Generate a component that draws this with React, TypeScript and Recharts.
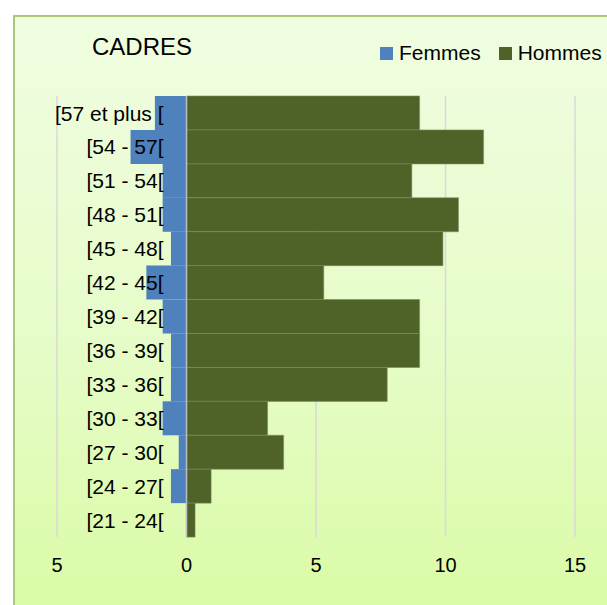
import { Bar, BarChart, CartesianGrid, LabelList, ReferenceLine, XAxis, YAxis } from 'recharts'

const ageGroups = [
  '[57 et plus [',
  '[54 - 57[',
  '[51 - 54[',
  '[48 - 51[',
  '[45 - 48[',
  '[42 - 45[',
  '[39 - 42[',
  '[36 - 39[',
  '[33 - 36[',
  '[30 - 33[',
  '[27 - 30[',
  '[24 - 27[',
  '[21 - 24[',
]
const femmes = [-1.22, -2.16, -0.92, -0.92, -0.6, -1.55, -0.92, -0.6, -0.6, -0.92, -0.3, -0.6, 0]
const hommes = [9.0, 11.47, 8.7, 10.5, 9.9, 5.3, 9.0, 9.0, 7.75, 3.13, 3.75, 0.95, 0.33]
const xTicks = [-5, 0, 5, 10, 15]

const data = ageGroups.map((age, i) => ({ age, Femmes: femmes[i], Hommes: hommes[i] }))

const font = '"Liberation Sans", Arial, sans-serif'

// age labels sit just left of the zero line, on top of the Femmes bars
const renderAgeLabel = (props: any) => {
  const vb = props.viewBox || props
  return (
    <text
      x={vb.x - 23}
      y={vb.y + vb.height / 2}
      textAnchor="end"
      dominantBaseline="central"
      fontSize={21}
      fontFamily={font}
      fill="#000"
    >
      {props.value}
    </text>
  )
}

export default function App() {
  return (
    <div
      style={{
        position: 'absolute',
        left: 13,
        top: 15,
        width: 600,
        height: 592,
        border: '2px solid #a9c978',
        background: 'linear-gradient(to bottom, #f0fde1 0%, #e6fcc8 55%, #dafba6 100%)',
        fontFamily: font,
      }}
    >
      <div style={{ position: 'absolute', left: 77, top: 16, fontSize: 24, color: '#000' }}>CADRES</div>
      <div style={{ position: 'absolute', left: 365, top: 24, display: 'flex', alignItems: 'center', fontSize: 21, color: '#000' }}>
        <span style={{ width: 13, height: 13, background: '#4f81bd', display: 'inline-block', marginRight: 6 }} />
        <span style={{ marginRight: 18 }}>Femmes</span>
        <span style={{ width: 13, height: 13, background: '#4f6228', display: 'inline-block', marginRight: 6 }} />
        <span>Hommes</span>
      </div>
      <BarChart
        width={600}
        height={590}
        data={data}
        layout="vertical"
        stackOffset="sign"
        barCategoryGap={0}
        margin={{ top: 79, right: 40, left: 42, bottom: 0 }}
      >
        <CartesianGrid horizontal={false} stroke="#d9d9d9" strokeWidth={1.5} />
        <XAxis
          type="number"
          domain={[-5, 15]}
          ticks={xTicks}
          axisLine={false}
          tickLine={false}
          tickSize={0}
          tickMargin={21}
          height={70}
          tickFormatter={(v) => String(Math.abs(Number(v)))}
          tick={{ fontSize: 20, fill: '#000', fontFamily: font }}
        />
        <YAxis type="category" dataKey="age" hide />
        <ReferenceLine x={0} stroke="#bfbfbf" strokeWidth={1.5} />
        <Bar dataKey="Femmes" stackId="a" fill="#4f81bd" isAnimationActive={false} />
        <Bar dataKey="Hommes" stackId="a" fill="#4f6228" stroke="#7d8f5c" strokeWidth={0.6} isAnimationActive={false}>
          <LabelList dataKey="age" content={renderAgeLabel} />
        </Bar>
      </BarChart>
    </div>
  )
}
